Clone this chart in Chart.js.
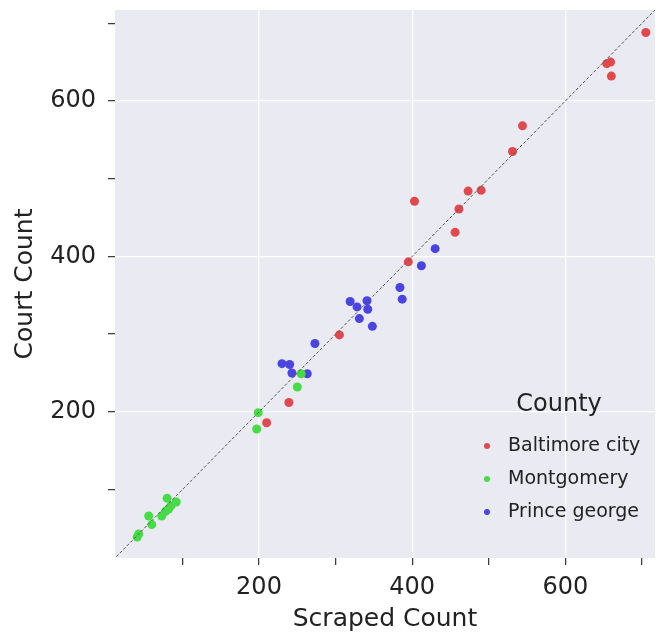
<!DOCTYPE html>
<html>
<head>
<meta charset="utf-8">
<script src="https://cdn.jsdelivr.net/npm/chart.js@4"></script>
<style>
  html, body { margin: 0; padding: 0; background: #fff; }
  #wrap { width: 660px; height: 636px; }
</style>
</head>
<body>
<div id="wrap"><canvas id="scatter"></canvas></div>
<script>
// scraped vs court counts per county
const counties = ['Baltimore city', 'Montgomery', 'Prince george'];
const colors = ['#e04a4e', '#46dc46', '#4a44e0'];

const baltimoreScraped = [705, 654, 659, 660, 544, 531, 403, 473, 490, 461, 456, 395, 305, 239, 210];
const baltimoreCourt   = [688, 648, 650, 632, 568, 535, 471, 484, 485, 461, 431, 393, 299, 212, 186];

const montgomeryScraped = [80, 92, 85, 78, 73, 82, 56, 60, 43, 41, 255, 250, 199, 197];
const montgomeryCourt   = [89, 84, 79, 72, 66, 75, 66, 55, 43, 39, 249, 232, 199, 178];

const princeScraped = [430, 412, 384, 387, 319, 341, 328, 342, 331, 348, 273, 230, 240, 243, 263];
const princeCourt   = [410, 388, 360, 345, 342, 343, 335, 332, 320, 310, 288, 262, 261, 250, 249];

const tickValues = [100, 200, 300, 400, 500, 600, 700];
const labelledTicks = [200, 400, 600];
const axisMin = 12, axisMax = 717;

function pairs(xs, ys) {
    return xs.map((x, i) => ({ x: x, y: ys[i] }));
}

const seriesX = [baltimoreScraped, montgomeryScraped, princeScraped];
const seriesY = [baltimoreCourt, montgomeryCourt, princeCourt];

const datasets = counties.map((name, i) => ({
    type: 'scatter',
    label: name,
    data: pairs(seriesX[i], seriesY[i]),
    backgroundColor: colors[i],
    borderWidth: 0,
    pointRadius: 4.5
}));

// y = x reference line
datasets.push({
    type: 'line',
    label: 'identity',
    data: [{ x: 0, y: 0 }, { x: 730, y: 730 }],
    borderColor: '#555',
    borderWidth: 1,
    borderDash: [3, 2],
    pointRadius: 0,
    order: -1
});

const plotBackground = {
    id: 'plotBackground',
    beforeDraw(chart) {
        const { ctx, chartArea: a } = chart;
        ctx.save();
        ctx.fillStyle = '#eaeaf2';
        ctx.fillRect(a.left, a.top, a.right - a.left, a.bottom - a.top);
        ctx.restore();
    }
};

// legend drawn inside the plot, lower right
const countyLegend = {
    id: 'countyLegend',
    afterDraw(chart) {
        const { ctx, chartArea: a } = chart;
        ctx.save();
        ctx.fillStyle = '#222';
        ctx.textBaseline = 'middle';
        ctx.textAlign = 'center';
        ctx.font = '24px "DejaVu Sans"';
        ctx.fillText('County', a.right - 96, a.bottom - 153);
        ctx.font = '19px "DejaVu Sans"';
        ctx.textAlign = 'left';
        counties.forEach((name, i) => {
            const y = a.bottom - 112 + i * 33;
            ctx.fillStyle = colors[i];
            ctx.beginPath();
            ctx.arc(a.right - 168, y, 3, 0, Math.PI * 2);
            ctx.fill();
            ctx.fillStyle = '#222';
            ctx.fillText(name, a.right - 147, y);
        });
        ctx.restore();
    }
};

function axis(title, size, tickPad, titlePad) {
    return {
        type: 'linear',
        min: axisMin,
        max: axisMax,
        afterBuildTicks(scale) {
            scale.ticks = tickValues.map(v => ({ value: v }));
        },
        afterFit(scale) {
            // fixed axis thickness, no extra room for end labels
            if (scale.isHorizontal()) {
                scale.height = size;
                scale.paddingLeft = 0;
                scale.paddingRight = 0;
            } else {
                scale.width = size;
                scale.paddingTop = 0;
                scale.paddingBottom = 0;
            }
        },
        border: { display: false },
        grid: {
            color: c => labelledTicks.includes(c.tick && c.tick.value) ? '#ffffff' : 'rgba(0,0,0,0)',
            lineWidth: 1.3,
            tickColor: '#333',
            tickLength: 7,
            tickWidth: 1.2
        },
        ticks: {
            color: '#222',
            font: { family: 'DejaVu Sans', size: 24 },
            padding: tickPad,
            maxRotation: 0,
            callback: v => labelledTicks.includes(v) ? String(v) : ''
        },
        title: {
            display: true,
            text: title,
            color: '#222',
            font: { family: 'DejaVu Sans', size: 25 },
            padding: titlePad
        }
    };
}

new Chart(document.getElementById('scatter'), {
    data: { datasets: datasets },
    options: {
        responsive: true,
        maintainAspectRatio: false,
        animation: false,
        layout: { padding: { top: 10, right: 5, left: 0, bottom: 0 } },
        plugins: {
            legend: { display: false },
            tooltip: { enabled: false }
        },
        scales: {
            x: axis('Scraped Count', 78, 8, { top: 0, bottom: 2 }),
            y: axis('Court Count', 115, 12, { top: 10, bottom: 0 })
        }
    },
    plugins: [plotBackground, countyLegend]
});
</script>
</body>
</html>
